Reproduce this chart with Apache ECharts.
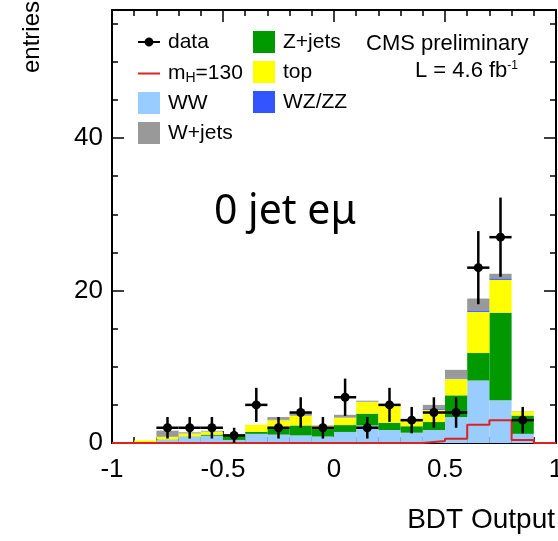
<!DOCTYPE html>
<html>
<head>
<meta charset="utf-8">
<title>BDT Output 0 jet eμ</title>
<script src="https://cdn.jsdelivr.net/npm/echarts@6/dist/echarts.min.js"></script>
<style>
  html, body { margin: 0; padding: 0; background: #fff; }
  #chart { width: 558px; height: 541px; }
</style>
</head>
<body>
<div id="chart"></div>
<script>
// histogram bins of the BDT output (width 0.1)
const binEdges = [-1, -0.9, -0.8, -0.7, -0.6, -0.5, -0.4, -0.3, -0.2, -0.1, 0, 0.1, 0.2, 0.3, 0.4, 0.5, 0.6, 0.7, 0.8, 0.9, 1]
// backgrounds, stacked bottom to top
const ww    = [0, 0.05, 0.4, 0.8, 0.95, 0.4, 1.2, 1.1, 1.0, 0.85, 1.45, 2.3, 1.7, 1.35, 1.7, 3.4, 8.2, 5.6, 1.2, 0]
const zjets = [0, 0, 0.05, 0.05, 0.15, 0.6, 0.25, 0.9, 1.3, 1.0, 0.9, 1.55, 0.95, 0.85, 1.05, 2.85, 3.6, 11.5, 2.4, 0]
const ttbar = [0, 0.3, 0.35, 0.4, 0.4, 0.1, 0.95, 1.0, 1.3, 0.45, 1.0, 1.55, 2.3, 0.65, 1.6, 2.2, 5.4, 4.3, 0.55, 0]
const wzzz  = [0, 0, 0.02, 0, 0, 0, 0, 0.05, 0.05, 0.03, 0.05, 0.05, 0.05, 0.2, 0.1, 0.15, 0.2, 0.2, 0.02, 0]
const wjets = [0, 0, 0.8, 0.15, 0.1, 0, 0, 0.35, 0.4, 0, 0.3, 0.1, 0, 0, 0.55, 1.0, 1.55, 0.6, 0, 0]
// higgs signal m_H = 130 (not stacked)
const signal = [0, 0, 0, 0, 0, 0, 0, 0, 0, 0, 0, 0, 0, 0, 0.25, 0.55, 2.4, 3.0, 0.4, 0]
// observed events
const dataCounts = [0, 0, 2, 2, 2, 1, 5, 2, 4, 2, 6, 2, 5, 3, 4, 4, 23, 27, 3, 0]
const yMax = 56.8

const font = 'Liberation Sans'
const binLow = binEdges.slice(0, -1)
const categories = binLow.map(v => String(v))

const signalLine = binLow.map((e, i) => [e, signal[i]])
signalLine.push([binEdges[binEdges.length - 1], signal[signal.length - 1]])

const dataPoints = []
dataCounts.forEach((n, i) => {
  if (n <= 0) return
  const half = (binEdges[i + 1] - binEdges[i]) / 2
  dataPoints.push([binEdges[i] + half, n, half, Math.sqrt(n)])
})

const chart = echarts.init(document.getElementById('chart'))

const bkg = (name, values, color) => ({
  name: name,
  type: 'bar',
  stack: 'bkg',
  xAxisIndex: 2,
  yAxisIndex: 0,
  barCategoryGap: '0%',
  itemStyle: { color: color },
  data: values,
})

const xTicks = (position, showLabel) => ({
  type: 'value',
  position: position,
  min: -1,
  max: 1,
  interval: 0.5,
  axisLine: { show: true, onZero: false, lineStyle: { color: '#000', width: 2 } },
  axisTick: { show: true, inside: true, length: 12, lineStyle: { color: '#000', width: 1.5 } },
  minorTick: { show: true, splitNumber: 5, length: 6, lineStyle: { color: '#000', width: 1.5 } },
  splitLine: { show: false },
  minorSplitLine: { show: false },
  axisLabel: { show: showLabel, fontSize: 26, fontFamily: font, color: '#000', margin: 14 },
})

const yTicks = (position, interval, len, showLine, showLabel) => ({
  type: 'value',
  position: position,
  min: 0,
  max: yMax,
  interval: interval,
  axisLine: { show: showLine, onZero: false, lineStyle: { color: '#000', width: 2 } },
  axisTick: { show: true, inside: true, length: len, lineStyle: { color: '#000', width: 1.5 } },
  splitLine: { show: false },
  axisLabel: {
    show: showLabel,
    fontSize: 26,
    fontFamily: font,
    color: '#000',
    margin: 9,
    formatter: v => (v % 20 === 0 ? String(v) : ''),
  },
})

const legendText = {
  fontSize: 21,
  fontFamily: font,
  color: '#000',
  lineHeight: 22,
  padding: [0, 0, 0, 3],
  rich: {
    sub: { fontSize: 14, fontFamily: font, color: '#000', lineHeight: 14, padding: [9, 0, 0, 0] },
  },
}

chart.setOption({
  animation: false,
  textStyle: { fontFamily: font },
  grid: { left: 112, right: 2, top: 10, bottom: 98, containLabel: false, outerBoundsMode: 'none' },
  xAxis: [
    xTicks('bottom', true),
    xTicks('top', false),
    { type: 'category', data: categories, show: false, boundaryGap: true, position: 'bottom' },
  ],
  yAxis: [
    yTicks('left', 5, 6, true, true),
    yTicks('left', 20, 12, false, false),
    yTicks('right', 5, 6, true, false),
    yTicks('right', 20, 12, false, false),
  ],
  legend: [
    {
      left: 138, top: 31, itemWidth: 22, itemHeight: 9, selectedMode: false, padding: 0,
      data: [{
        name: 'data',
        icon: 'path://M0,3.5 L6.61,3.5 A4.5,4.5 0 0,1 15.39,3.5 L22,3.5 L22,5.5 L15.39,5.5 A4.5,4.5 0 0,1 6.61,5.5 L0,5.5 Z',
      }],
      textStyle: legendText,
    },
    {
      left: 138, top: 62, itemWidth: 22, itemHeight: 2, selectedMode: false, padding: 0,
      data: [{ name: 'm_H=130', icon: 'rect' }],
      formatter: () => 'm{sub|H}=130',
      textStyle: legendText,
    },
    {
      left: 138, top: 92, orient: 'vertical', itemWidth: 22, itemHeight: 22, itemGap: 8,
      selectedMode: false, padding: 0, icon: 'rect',
      data: ['WW', 'W+jets'],
      textStyle: legendText,
    },
    {
      left: 253, top: 31, orient: 'vertical', itemWidth: 22, itemHeight: 22, itemGap: 8,
      selectedMode: false, padding: 0, icon: 'rect',
      data: ['Z+jets', 'top', 'WZ/ZZ'],
      textStyle: legendText,
    },
  ],
  title: [
    { text: 'CMS preliminary', left: 366, top: 33, padding: 0, textStyle: { fontSize: 22, fontWeight: 'normal', fontFamily: font, color: '#000' } },
    {
      text: 'L = 4.6 fb{sup|-1}', right: 40, top: 60, padding: 0,
      textStyle: {
        fontSize: 22, fontWeight: 'normal', fontFamily: font, color: '#000',
        rich: { sup: { fontSize: 12, fontFamily: font, color: '#000', verticalAlign: 'top', lineHeight: 22, padding: [0, 0, 10, 0] } },
      },
    },
    { text: '0 jet eμ', left: 214, top: 192, padding: 0, textStyle: { fontSize: 41, fontWeight: 'normal', fontFamily: 'Noto Sans', color: '#000' } },
    { text: 'BDT Output', right: 3, top: 506, padding: 0, textStyle: { fontSize: 28, fontWeight: 'normal', fontFamily: font, color: '#000' } },
  ],
  graphic: [
    {
      type: 'text', x: 32, y: 37, rotation: Math.PI / 2,
      style: { text: 'entries', font: '24px "Liberation Sans"', fill: '#000', align: 'center', verticalAlign: 'middle', textAlign: 'center', textVerticalAlign: 'middle' },
    },
  ],
  series: [
    bkg('WW', ww, '#99ccff'),
    bkg('Z+jets', zjets, '#009900'),
    bkg('top', ttbar, '#ffff00'),
    bkg('WZ/ZZ', wzzz, '#3355ff'),
    bkg('W+jets', wjets, '#999999'),
    {
      name: 'm_H=130',
      type: 'line',
      xAxisIndex: 0,
      yAxisIndex: 0,
      step: 'end',
      symbol: 'none',
      z: 5,
      itemStyle: { color: '#dd2222' },
      lineStyle: { color: '#dd2222', width: 2 },
      data: signalLine,
    },
    {
      name: 'data',
      type: 'custom',
      xAxisIndex: 0,
      yAxisIndex: 0,
      z: 6,
      itemStyle: { color: '#000' },
      encode: { x: 0, y: 1 },
      data: dataPoints,
      renderItem: (params, api) => {
        const xc = api.value(0)
        const n = api.value(1)
        const half = api.value(2)
        const err = api.value(3)
        const p = api.coord([xc, n])
        const pl = api.coord([xc - half, n])
        const pr = api.coord([xc + half, n])
        const pt = api.coord([xc, n + err])
        const pb = api.coord([xc, n - err])
        const st = { stroke: '#000', lineWidth: 2.5 }
        return {
          type: 'group',
          children: [
            { type: 'line', shape: { x1: pl[0], y1: p[1], x2: pr[0], y2: p[1] }, style: st },
            { type: 'line', shape: { x1: p[0], y1: pt[1], x2: p[0], y2: pb[1] }, style: st },
            { type: 'circle', shape: { cx: p[0], cy: p[1], r: 4.5 }, style: { fill: '#000' } },
          ],
        }
      },
    },
  ],
})

window.addEventListener('resize', () => chart.resize())
</script>
</body>
</html>
